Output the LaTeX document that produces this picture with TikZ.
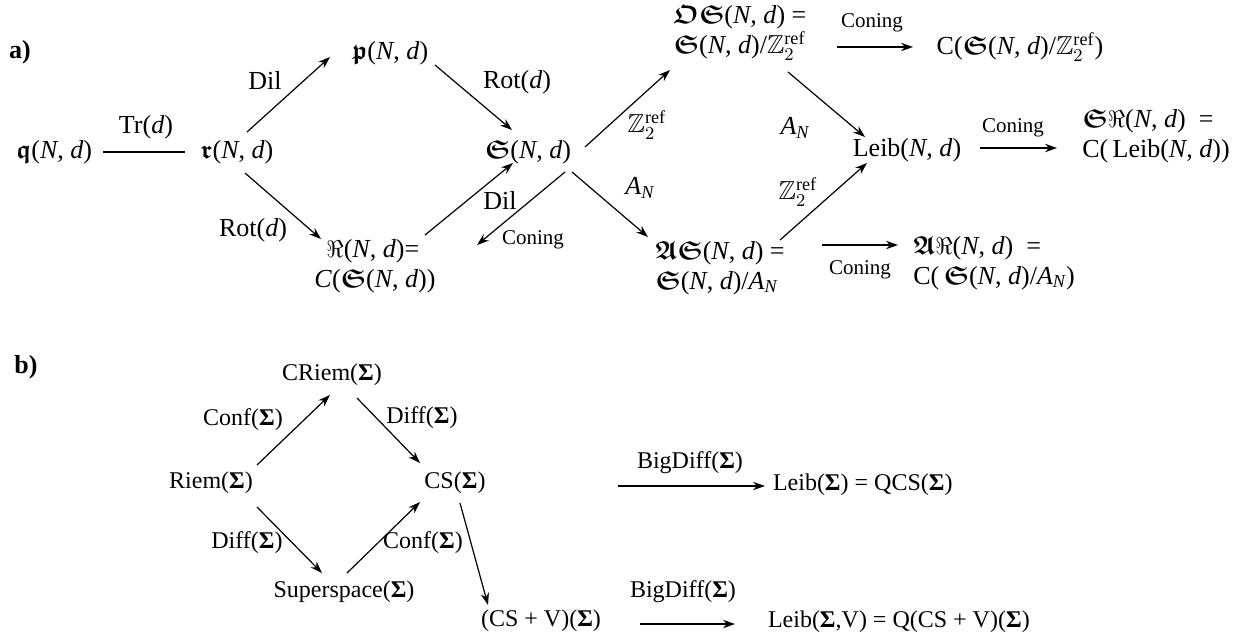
\documentclass[tikz,border=0pt]{standalone}
\usepackage{amsmath,amssymb}
\usepackage{fontspec}
\setmainfont{Liberation Serif}
\usetikzlibrary{arrows.meta}
\newcommand\Nd{(\textit{N}, \textit{d})}
\newcommand\fk[1]{$\boldsymbol{\mathfrak{#1}}$}
\newcommand\Zref{$\mathbb{Z}_2^{\mathrm{ref}}$}
\newcommand\Sg{\textbf{Σ}}
\begin{document}
\begin{tikzpicture}[x=0.5pt,y=-0.5pt,
  every node/.style={inner sep=0pt,outer sep=0pt,font=\fontsize{13}{15}\selectfont},
  obj/.style={anchor=center},
  two/.style={align=left,font=\fontsize{13}{15}\selectfont},
  lab/.style={anchor=center},
  small/.style={anchor=center,font=\fontsize{10.5}{12}\selectfont},
  bobj/.style={anchor=center,font=\fontsize{12}{15}\selectfont},
  blab/.style={anchor=center,font=\fontsize{12}{15}\selectfont},
  arr/.style={-{Stealth[length=6pt,width=4.2pt]},line width=0.6pt},
  ln/.style={line width=0.6pt}]
\useasboundingbox (0,0) rectangle (1252,638);
% ---------- a) ----------
\node[font=\bfseries\fontsize{13}{15}\selectfont] (la) at (20,52) {a)};
\node[obj] (q) at (54,152) {\fk{q}\Nd};
\node[obj] (r) at (237,152) {\fk{r}\Nd};
\node[obj] (p) at (390,53) {\fk{p}\Nd};
\node[two] (R) at (375,266) {\hspace*{6pt}$\Re$\Nd=\\\textit{C}(\fk{S}\Nd)};
\node[obj] (s) at (528,152) {\fk{S}\Nd};
\node[two] (OS) at (740,33) {\fk{O}\fk{S}\Nd{} =\\\fk{S}\Nd/\Zref};
\node[two] (AS) at (720,268) {\fk{A}\fk{S}\Nd{} =\\\fk{S}\Nd/$\textit{A}_{\textit{N}}$};
\node[obj] (Leib) at (907,150) {Leib\Nd};
\node[obj] (Cz) at (1020,47) {C(\fk{S}\Nd/\Zref)};
\node[two] (SR) at (1156,136) {\fk{S}$\Re$\Nd{}\ \ =\\C(\,Leib\Nd)};
\node[two] (AR) at (994,263) {\fk{A}$\Re$\Nd{}\ \ =\\C(\,\fk{S}\Nd/$\textit{A}_{\textit{N}}$)};

\draw[ln] ([shift={(49,0)}]q.center) -- ([shift={(-52,0)}]r.center);
\draw[arr] ([shift={(10,-20)}]r.center) -- ([shift={(-60,4)}]p.center);
\draw[arr] ([shift={(8,21)}]r.center) -- ([shift={(-54,-27)}]R.center);
\draw[arr] ([shift={(45,12)}]p.center) -- ([shift={(-16,-22)}]s.center);
\draw[arr] ([shift={(50,-31)}]R.center) -- ([shift={(-15,11)}]s.center);
\draw[arr] ([shift={(37,20)}]s.center) -- ([shift={(102,-21)}]R.center);
\draw[arr] ([shift={(57,-5)}]s.center) -- ([shift={(-70,37)}]OS.center);
\draw[arr] ([shift={(44,20)}]s.center) -- ([shift={(-72,-31)}]AS.center);
\draw[arr] ([shift={(48,39)}]OS.center) -- ([shift={(-42,-13)}]Leib.center);
\draw[arr] ([shift={(60,-28)}]AS.center) -- ([shift={(-40,13)}]Leib.center);
\draw[arr] ([shift={(97,14)}]OS.center) -- ([shift={(-107,0)}]Cz.center);
\draw[arr] ([shift={(73,-2)}]Leib.center) -- ([shift={(-99,12)}]SR.center);
\draw[arr] ([shift={(102,-23)}]AS.center) -- ([shift={(-96,-18)}]AR.center);

\node[lab] (l1) at (146,127) {Tr(\textit{d})};
\node[lab] (l2) at (265,80) {Dil};
\node[lab] (l3) at (253,230) {Rot(\textit{d})};
\node[lab] (l4) at (517,82) {Rot(\textit{d})};
\node[lab] (l5) at (500,200) {Dil};
\node[small] (l6) at (533,240) {Coning};
\node[lab] (l7) at (647,125) {\Zref};
\node[lab] (l8) at (640,188) {$\textit{A}_{\textit{N}}$};
\node[lab] (l9) at (795,128) {$\textit{A}_{\textit{N}}$};
\node[lab] (l10) at (798,192) {\Zref};
\node[small] (l11) at (872,23) {Coning};
\node[small] (l12) at (1013,128) {Coning};
\node[small] (l13) at (860,270) {Coning};

% ---------- b) ----------
\node[font=\bfseries\fontsize{13}{15}\selectfont] (lb) at (26,367) {b)};
\node[bobj] (Riem) at (211,483) {Riem(\Sg)};
\node[bobj] (CRiem) at (332,375) {CRiem(\Sg)};
\node[bobj] (CS) at (455,483) {CS(\Sg)};
\node[bobj] (Sup) at (344,592) {Superspace(\Sg)};
\node[bobj] (CSV) at (541,621) {(CS + V)(\Sg)};
\node[bobj,anchor=west] (LQ) at (773,485) {Leib(\Sg) = QCS(\Sg)};
\node[bobj,anchor=west] (LV) at (768,622) {Leib(\Sg,V) = Q(CS + V)(\Sg)};

\draw[arr] ([shift={(46,-18)}]Riem.center) -- ([shift={(-2,20)}]CRiem.center);
\draw[arr] ([shift={(25,23)}]CRiem.center) -- ([shift={(-35,-20)}]CS.center);
\draw[arr] ([shift={(46,24)}]Riem.center) -- ([shift={(-22,-19)}]Sup.center);
\draw[arr] ([shift={(3,-19)}]Sup.center) -- ([shift={(-35,19)}]CS.center);
\draw[arr] ([shift={(5,20)}]CS.center) -- ([shift={(-53,-16)}]CSV.center);
\draw[arr] ([shift={(163,3)}]CS.center) -- ([shift={(-8,1)}]LQ.west);
\draw[arr] ([shift={(99,3)}]CSV.center) -- ([shift={(-33,2)}]LV.west);

\node[blab] (m1) at (243,420) {Conf(\Sg)};
\node[blab] (m2) at (422,418) {Diff(\Sg)};
\node[blab] (m3) at (247,543) {Diff(\Sg)};
\node[blab] (m4) at (423,543) {Conf(\Sg)};
\node[blab] (m5) at (690,463) {BigDiff(\Sg)};
\node[blab] (m6) at (683,592) {BigDiff(\Sg)};
\end{tikzpicture}
\end{document}
